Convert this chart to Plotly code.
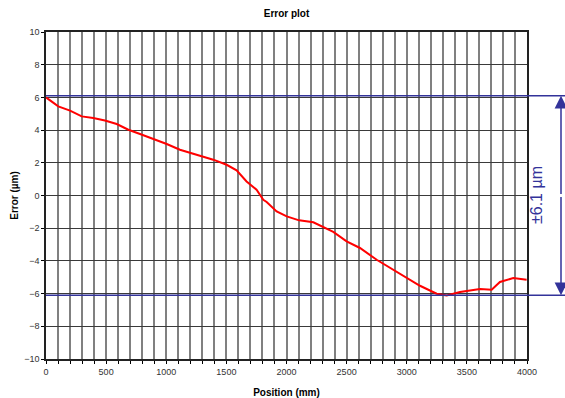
import plotly.graph_objects as go

position_mm = [0, 102, 200, 297, 393, 490, 588, 685, 782, 893, 1004, 1114, 1197, 1280, 1391,
               1502, 1585, 1668, 1751, 1807, 1835, 1918, 2002, 2105, 2223, 2389, 2500, 2611,
               2750, 2888, 3000, 3110, 3249, 3332, 3443, 3609, 3706, 3775, 3886, 3997]
error_um = [6.0, 5.45, 5.19, 4.84, 4.74, 4.59, 4.37, 4.02, 3.76, 3.46, 3.15, 2.80, 2.60, 2.43, 2.19,
            1.88, 1.54, 0.86, 0.35, -0.26, -0.40, -0.97, -1.28, -1.52, -1.64, -2.23, -2.81, -3.21,
            -3.93, -4.54, -4.99, -5.52, -6.01, -6.11, -5.90, -5.72, -5.76, -5.29, -5.05, -5.15]
limit_um = 6.1
limit_label = "±6.1 µm"

FONT = "Liberation Sans, Arial, sans-serif"
BLUE = "#33339a"
PX_PER_UM = 327 / 20.0

fig = go.Figure()
fig.add_trace(go.Scatter(x=position_mm, y=error_um, mode="lines",
                         line=dict(color="#ff0000", width=2), showlegend=False))

for yv in (limit_um, -limit_um):
    fig.add_shape(type="line", xref="paper", yref="y", x0=0, x1=1.08, y0=yv, y1=yv,
                  line=dict(color=BLUE, width=1.3), layer="above")

arrow_x = (561 - 46) / 481.0
for yv in (limit_um, -limit_um):
    fig.add_annotation(xref="paper", yref="y", x=arrow_x, y=yv,
                       ax=0, ay=yv * PX_PER_UM, axref="pixel", ayref="pixel",
                       showarrow=True, arrowhead=2, arrowsize=1.7, standoff=0,
                       arrowwidth=1.5, arrowcolor=BLUE, text="")
fig.add_annotation(xref="paper", yref="y", x=(547 - 46) / 481.0, y=0, text=limit_label,
                   textangle=-90, showarrow=False,
                   font=dict(family=FONT, size=16, color=BLUE))

axis_common = dict(showline=True, linecolor="#222222", linewidth=1.5, mirror=True,
                   zeroline=False, automargin=False,
                   ticks="outside", ticklen=3, tickcolor="black",
                   tickfont=dict(family=FONT, size=9, color="#333333"))

fig.update_xaxes(range=[0, 4000], dtick=500, tick0=0,
                 gridcolor="#808080", gridwidth=2,
                 minor=dict(dtick=100, showgrid=True, gridcolor="#808080", gridwidth=2,
                            ticks="outside", ticklen=3, tickcolor="black"),
                 title=dict(text="<b>Position (mm)</b>", font=dict(family=FONT, size=10, color="black"),
                            standoff=13),
                 **axis_common)
fig.update_yaxes(range=[-10, 10], dtick=2, gridcolor="#3a3a3a", gridwidth=1.3,
                 title=dict(text="<b>Error (µm)</b>", font=dict(family=FONT, size=10, color="black"),
                            standoff=4),
                 **axis_common)

fig.update_layout(
    width=565, height=398,
    margin=dict(l=46, r=38, t=32, b=39, autoexpand=False),
    paper_bgcolor="white", plot_bgcolor="white",
    title=dict(text="<b>Error plot</b>", x=(46 + 481 / 2) / 565, xanchor="center",
               y=1 - 13 / 398, yanchor="middle",
               font=dict(family=FONT, size=10, color="black")),
    font=dict(family=FONT),
)

fig.write_html("out.html", config={"displayModeBar": False},
               post_script="document.body.style.margin='0';document.body.style.overflow='hidden';")
